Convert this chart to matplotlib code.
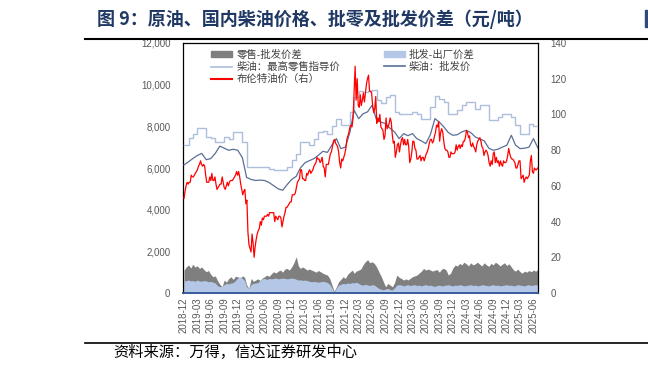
import matplotlib
matplotlib.use("Agg")

import pandas as pd
import matplotlib.pyplot as plt
import matplotlib.dates as mdates
from matplotlib.patches import Patch, Rectangle
from matplotlib.lines import Line2D
from matplotlib.ticker import FuncFormatter

plt.rcParams["font.family"] = ["Liberation Sans", "Noto Sans CJK SC", "DejaVu Sans"]

# Brent, USD/bbl, weekly from 2018-12-31
brent = [
    53, 57, 60, 62, 61, 62, 62, 66, 65, 65, 66, 67, 68, 69, 71, 72, 74, 72,
    71, 72, 71, 66, 62, 62, 62, 65, 63, 67, 63, 63, 65, 61, 58, 59, 60,
    61, 61, 65, 62, 59, 58, 60, 62, 60, 62, 63, 63, 63, 64, 65, 66, 68, 66,
    # 2020
    68, 65, 61, 58, 55, 57, 58, 50, 52, 34, 27, 25, 23, 33, 28, 20, 26,
    30, 33, 35, 36, 40, 38, 42, 41, 43, 43, 43, 44, 43, 45, 45, 45, 45, 45,
    40, 43, 42, 41, 43, 43, 42, 37, 40, 43, 45, 48, 48, 49, 50, 51, 51,
    # 2021
    55, 55, 55, 56, 59, 62, 63, 64, 69, 69, 64, 64, 63, 63, 67, 66, 68,
    69, 67, 68, 69, 71, 72, 73, 76, 75, 75, 73, 74, 76, 71, 70, 65, 72, 72,
    72, 75, 78, 79, 82, 85, 86, 84, 83, 82, 79, 73, 70, 75, 74, 76, 78,
    # 2022
    81, 86, 88, 90, 93, 94, 93, 98, 112, 127, 108, 120, 105, 104, 111, 105, 108,
    112, 107, 112, 117, 120, 122, 113, 113, 112, 105, 101, 103, 110,
    95, 98, 96, 100, 93, 92, 91, 86, 88, 98, 92, 93, 95, 98, 96, 89, 84, 85,
    76, 79, 83, 84,
    # 2023
    79, 83, 86, 87, 83, 86, 83, 83, 86, 82, 73, 75, 79, 85, 85, 81, 80,
    75, 75, 76, 77, 74, 76, 76, 74, 76, 78, 79, 81, 84, 86, 86, 84, 85, 88,
    90, 94, 93, 96, 85, 90, 92, 90, 85, 81, 80, 80, 79, 76, 76, 79, 78,
    # 2024
    78, 78, 79, 83, 80, 82, 83, 81, 83, 82, 85, 85, 87, 91, 90, 87, 88, 83,
    82, 84, 82, 81, 79, 83, 85, 86, 87, 85, 82, 81, 77, 79, 80, 79, 77,
    73, 71, 74, 72, 78, 79, 73, 76, 73, 74, 71, 74, 72, 71, 74, 73, 73, 74,
    # 2025
    77, 81, 78, 76, 75, 75, 74, 73, 70, 70, 72, 74, 74, 64, 65, 66, 62,
    64, 65, 64, 65, 66, 74, 77, 68, 67, 70, 69, 69, 70,
]

# diesel prices, yuan/t, month ends from 2018-12
retail_max = [
    7100,
    7420, 7650, 7900, 7900, 7500, 7420, 7260, 7250, 7500, 7410, 7730, 7740,
    7260, 6060, 6060, 6060, 6060, 6060, 5960, 5890, 5890, 5890, 6050, 6400,
    6690, 7250, 7250, 7100, 7400, 7730, 7800, 7650, 8000, 8370, 8050, 8050,
    8690, 9410, 9700, 9650, 9700, 9750, 9250, 9100, 9400, 9490, 8690, 8610,
    8610, 8610, 8700, 8610, 8370, 8370, 8930, 9440, 9300, 9170, 8610, 8610,
    8800, 9010, 9170, 9170, 8850, 9010, 9010, 8290, 8290, 8450, 8610, 8610,
    8450, 8050, 7650, 7650, 8130, 8020, 8020,
]
wholesale = [
    6150,
    6300, 6450, 6600, 6700, 6400, 6450, 6700, 7050, 6950, 6850, 6900, 6850,
    6500, 5550, 5450, 5400, 5420, 5400, 5300, 5150, 5000, 4930, 5200, 5450,
    5600, 6000, 6250, 6350, 6450, 6610, 6800, 6750, 7100, 7410, 6930, 7000,
    7730, 8770, 8370, 8600, 8700, 9010, 8290, 8200, 8130, 7900, 7730, 7410,
    7650, 7550, 7650, 7410, 7300, 7170, 7600, 8370, 8200, 7970, 7700, 7570,
    7600, 7730, 7810, 7700, 7490, 7400, 7300, 6950, 6850, 6900, 7000, 7090,
    7570, 7100, 6930, 6950, 7000, 7410, 6950,
]

# spreads, yuan/t, semi-monthly from 2018-12-31
retail_wholesale = [
    1100,
    1250, 1340, 1200, 1380, 1250, 1300, 1180, 1250, 1120, 1020, 1080, 900,
    780, 820, 600, 420, 300, 620, 520, 700, 780, 650, 800, 780,
    700, 820, 760, 400, 220, 700, 560, 620, 680, 600, 720, 780,
    860, 800, 920, 1020, 960, 1050, 1100, 1000, 1150, 1180, 1100, 1250,
    1450, 1740, 1300, 1180, 1250, 1180, 1100, 1150, 1100, 1050, 1000, 1080,
    1020, 950, 900, 860, 700, 400, 80, 300, 540, 650, 780, 700,
    900, 1000, 1100, 950, 1050, 1100, 1150, 1350, 1500, 1600, 1450, 1500,
    1420, 1250, 1020, 800, 540, 300, 460, 380, 300, 500, 860, 750,
    700, 620, 680, 620, 700, 780, 820, 860, 950, 1050, 1180, 1100,
    1150, 1100, 1050, 1100, 1120, 1000, 1150, 1180, 1100, 860, 950, 1200,
    1340, 1300, 1420, 1350, 1480, 1400, 1300, 1450, 1350, 1400, 1480, 1380,
    1300, 1450, 1350, 1280, 1420, 1350, 1480, 1400, 1300, 1380, 1450, 1320,
    1400, 1250, 1100, 1050, 1150, 1020, 950, 1050, 1000, 1080, 1020, 1100,
    1050, 1120,
]
wholesale_factory = [
    560,
    600, 620, 580, 600, 560, 620, 580, 560, 600, 580, 540, 560,
    520, 480, 350, 300, 320, 400, 460, 440, 480, 500, 600, 720,
    780, 700, 600, 300, 220, 420, 460, 480, 500, 600, 680, 700,
    650, 700, 680, 700, 720, 680, 700, 720, 700, 680, 700, 720,
    700, 660, 620, 640, 600, 620, 600, 560, 540, 560, 540, 520,
    540, 560, 540, 500, 420, 250, 30, 250, 380, 420, 460, 440,
    480, 460, 500, 480, 520, 460, 400, 380, 420, 380, 360, 400,
    380, 300, 220, 180, 150, 200, 220, 160, 150, 250, 380, 400,
    380, 340, 380, 400, 360, 380, 400, 360, 380, 340, 380, 400,
    360, 380, 340, 320, 360, 380, 340, 360, 380, 400, 360, 340,
    380, 360, 400, 380, 340, 360, 380, 400, 360, 380, 340, 360,
    400, 380, 360, 340, 380, 400, 360, 380, 340, 360, 380, 400,
    360, 380, 340, 360, 400, 380, 360, 340, 380, 400, 360, 380,
    400, 380,
]

brent_dates = pd.date_range("2018-12-31", periods=len(brent), freq="W-MON")
month_dates = pd.date_range("2018-12-31", periods=len(retail_max), freq="ME")
spread_dates = pd.date_range("2018-12-31", periods=len(retail_wholesale), freq="SM")
spread_dates2 = pd.date_range("2018-12-31", periods=len(wholesale_factory), freq="SM")

GREY = "#7f7f7f"
LIGHT = "#b4c7e7"
RETAIL_C = "#adbfdc"
WHOLE_C = "#5a6f97"
TICK_C = "#595959"

fig = plt.figure(figsize=(6.48, 3.72), dpi=100)
ax = fig.add_axes([183 / 648, 1 - 293 / 372, 355 / 648, 250 / 372])

ax.fill_between(spread_dates, 0, retail_wholesale, color=GREY, lw=0, zorder=1)
ax.fill_between(spread_dates2, 0, wholesale_factory, color=LIGHT, lw=0, zorder=2)
ax.plot(month_dates, retail_max, color=RETAIL_C, lw=1.0, drawstyle="steps-post", zorder=3)
ax.plot(month_dates, wholesale, color=WHOLE_C, lw=0.9, zorder=3)

ax.set_ylim(0, 12000)
ax.set_yticks(range(0, 12001, 2000))
ax.yaxis.set_major_formatter(FuncFormatter(lambda v, p: f"{int(v):,}"))
ax.set_xlim(pd.Timestamp("2018-12-24"), pd.Timestamp("2025-07-31"))

xt = pd.date_range("2018-12-31", "2025-06-30", freq="3ME")
ax.set_xticks(xt)
ax.set_xticklabels([d.strftime("%Y-%m") for d in xt], rotation=90)
ax.tick_params(axis="x", length=0, pad=3, labelsize=7, labelcolor=TICK_C)
ax.tick_params(axis="y", length=0, pad=9, labelsize=7, labelcolor=TICK_C)

for s in ["left", "right", "top"]:
    ax.spines[s].set_color("black")
    ax.spines[s].set_linewidth(0.9)
ax.spines["bottom"].set_color("#2f5597")
ax.spines["bottom"].set_linewidth(1.3)

ax2 = ax.twinx()
ax2.plot(brent_dates, brent, color="#ff0000", lw=0.9, zorder=5)
ax2.set_ylim(0, 140)
ax2.set_yticks(range(0, 141, 20))
ax2.tick_params(axis="y", length=0, pad=9, labelsize=7, labelcolor=TICK_C)
for s in ax2.spines.values():
    s.set_visible(False)

handles = [
    Patch(color=GREY),
    Line2D([], [], color=RETAIL_C, lw=1.2),
    Line2D([], [], color="#ff0000", lw=1.5),
    Patch(color=LIGHT),
    Line2D([], [], color=WHOLE_C, lw=1.2),
]
labels = ["零售-批发价差", "柴油：最高零售指导价", "布伦特油价（右）", "批发-出厂价差", "柴油：批发价"]
fig.legend(handles, labels, loc="upper left", bbox_to_anchor=(206 / 648, 1 - 44 / 372),
           ncol=2, frameon=False, fontsize=7.5, handlelength=2.0, handleheight=0.6,
           handletextpad=0.4, labelspacing=0.2, columnspacing=4.2, borderpad=0,
           labelcolor="#404040")

fig.text(97 / 648, 1 - 19 / 372, "图 9：原油、国内柴油价格、批零及批发价差（元/吨）",
         fontsize=13, fontweight="bold", color="#1f3864", va="center", ha="left",
         family=["Noto Sans CJK SC", "DejaVu Sans"])
fig.add_artist(Line2D([85 / 648, 1], [1 - 39 / 372] * 2, color="black", lw=1.5))
fig.add_artist(Line2D([85 / 648, 1], [1 - 343 / 372] * 2, color="black", lw=1.2))
fig.text(113 / 648, 1 - 352 / 372, "资料来源：万得，信达证券研发中心", fontsize=11,
         color="black", va="center", ha="left", family=["Noto Sans CJK SC", "DejaVu Sans"])
fig.add_artist(Rectangle((645 / 648, 1 - 27 / 372), 3 / 648, 17 / 372,
                         color="#2e4a7d", transform=fig.transFigure))

fig.savefig("out.png", dpi=100)
